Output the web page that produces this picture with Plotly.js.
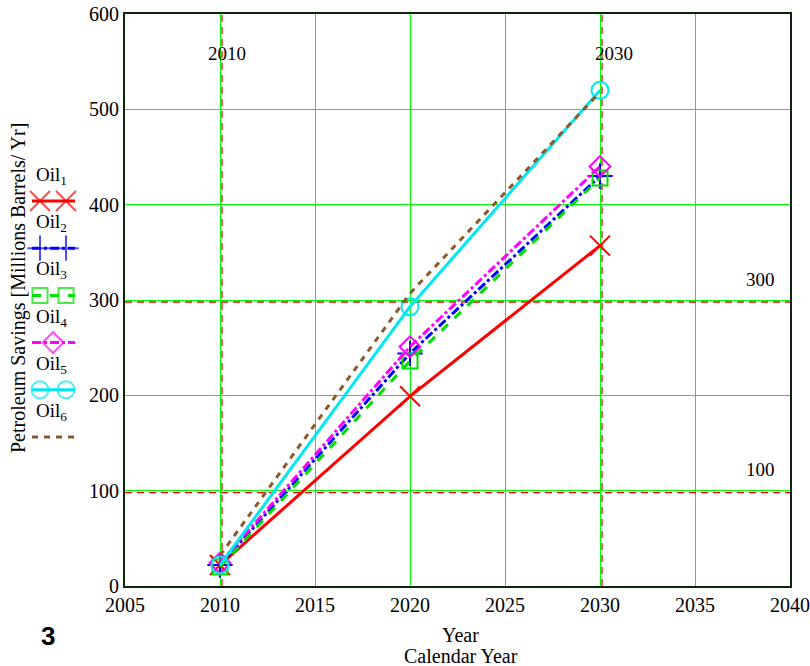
<!DOCTYPE html>
<html>
<head>
<meta charset="utf-8">
<script src="https://cdn.plot.ly/plotly-3.0.1.min.js"></script>
<style>html,body{margin:0;padding:0;background:#fff;}#chart{width:810px;height:666px;}</style>
</head>
<body>
<div id="chart"></div>
<script>
// ---- data ----
const years = [2010, 2020, 2030];
const oil1 = [22, 199, 357];
const oil2 = [22, 244, 430];
const oil3 = [20, 236, 428];
const oil4 = [24, 251, 440];
const oil5 = [22, 293, 520];
const oil6 = [32, 307, 518];
const seriesNames = ['Oil<sub>1</sub>', 'Oil<sub>2</sub>', 'Oil<sub>3</sub>', 'Oil<sub>4</sub>', 'Oil<sub>5</sub>', 'Oil<sub>6</sub>'];
const refYears = [2010, 2030];
const refValues = [100, 300];
const xTicks = [2005, 2010, 2015, 2020, 2025, 2030, 2035, 2040];
const yTicks = [0, 100, 200, 300, 400, 500, 600];

// ---- styles ----
const serif = 'Liberation Serif, Times New Roman, serif';
const FS = 20;
const styles = [
  {color: '#FF0000', dash: 'solid', symbol: 'x-thin-open', size: 20, mlw: 2},
  {color: '#0000FF', dash: 'dashdot', symbol: 'cross-thin-open', size: 18, mlw: 2},
  {color: '#00E000', dash: 'dash', symbol: 'square-open', size: 15, mlw: 2},
  {color: '#FF00FF', dash: 'dashdot', symbol: 'diamond-open', size: 16, mlw: 2},
  {color: '#00E8F0', dash: 'solid', symbol: 'circle-open', size: 17, mlw: 2},
  {color: '#8B5A2B', dash: '6px,6px', symbol: null, size: 0, mlw: 0}
];
const allSeries = [oil1, oil2, oil3, oil4, oil5, oil6];

const W = 810, H = 666;
const plotL = 125, plotR = 790, plotT = 14, plotB = 586;
const xMin = 2005, xMax = 2040, yMin = 0, yMax = 600;
// small pixel offsets so reference lines sit beside the grid lines, as in the original
const dxPix = 2 * (xMax - xMin) / (plotR - plotL);
const dyPix = 2 * (yMax - yMin) / (plotB - plotT);

const traces = [];
allSeries.forEach((vals, i) => {
  const s = styles[i];
  const t = {
    x: years, y: vals, type: 'scatter',
    mode: s.symbol ? 'lines+markers' : 'lines',
    name: seriesNames[i], showlegend: false,
    line: {color: s.color, width: 3, dash: s.dash},
    xaxis: 'x', yaxis: 'y'
  };
  if (s.symbol) t.marker = {symbol: s.symbol, size: s.size, color: s.color, line: {color: s.color, width: s.mlw}};
  traces.push(t);
});

// custom legend (text above sample) drawn on a pixel-unit helper axis in the left margin
const legTop = 201, legStep = 47.2;
const annotations = [];
styles.forEach((s, i) => {
  const yy = legTop + i * legStep;
  let xs, sizes;
  if (i === 3) { xs = [32, 53, 75]; sizes = [0, s.size, 0]; }
  else { xs = [32, 40, 66, 75]; sizes = [0, s.size, s.size, 0]; }
  const t = {
    x: xs, y: xs.map(() => yy), type: 'scatter',
    mode: s.symbol ? 'lines+markers' : 'lines', showlegend: false, hoverinfo: 'skip',
    line: {color: s.color, width: 3, dash: s.dash},
    xaxis: 'x2', yaxis: 'y2'
  };
  if (s.symbol) t.marker = {symbol: s.symbol, size: sizes, color: s.color, line: {color: s.color, width: s.mlw}};
  traces.push(t);
  annotations.push({
    xref: 'x2', yref: 'y2', x: 51, y: yy - 25, text: seriesNames[i],
    showarrow: false, xanchor: 'center', yanchor: 'middle',
    font: {family: serif, size: FS - 1, color: '#000'}
  });
});

// reference line labels
const refYearShift = [7, 14];
refYears.forEach((yr, i) => {
  annotations.push({xref: 'x', yref: 'paper', x: yr, y: (H - 53) / H, text: String(yr),
    showarrow: false, xanchor: 'center', yanchor: 'middle', xshift: refYearShift[i],
    font: {family: serif, size: FS - 1, color: '#000'}});
});
refValues.forEach((v) => {
  annotations.push({xref: 'paper', yref: 'y', x: 777 / W, y: v, yshift: 21, text: String(v),
    showarrow: false, xanchor: 'right', yanchor: 'middle',
    font: {family: serif, size: FS - 1, color: '#000'}});
});

// axis titles
annotations.push({xref: 'paper', yref: 'paper', x: 461 / W, y: (H - 635) / H,
  text: 'Year', showarrow: false, xanchor: 'center', yanchor: 'middle',
  font: {family: serif, size: FS, color: '#000'}});
annotations.push({xref: 'paper', yref: 'paper', x: 461 / W, y: (H - 656) / H,
  text: 'Calendar Year', showarrow: false, xanchor: 'center', yanchor: 'middle',
  font: {family: serif, size: FS, color: '#000'}});
annotations.push({xref: 'paper', yref: 'paper', x: 18 / W, y: (H - 288) / H,
  text: 'Petroleum Savings [Millions Barrels/ Yr]', textangle: -90, showarrow: false,
  xanchor: 'center', yanchor: 'middle',
  font: {family: serif, size: FS, color: '#000'}});
annotations.push({xref: 'paper', yref: 'paper', x: 48 / W, y: (H - 636) / H,
  text: '<b>3</b>', showarrow: false, xanchor: 'center', yanchor: 'middle',
  font: {family: 'Liberation Sans, Arial, sans-serif', size: 26, color: '#000'}});

const shapes = [];
refYears.forEach((yr) => {
  shapes.push({type: 'line', xref: 'x', yref: 'y', x0: yr + dxPix, x1: yr + dxPix,
    y0: yMin, y1: yMax, line: {color: '#FF0000', width: 1.3, dash: '7px,5px'}, layer: 'between'});
});
refValues.forEach((v) => {
  shapes.push({type: 'line', xref: 'x', yref: 'y', x0: xMin, x1: xMax,
    y0: v - dyPix, y1: v - dyPix, line: {color: '#FF0000', width: 1.3, dash: '7px,5px'}, layer: 'between'});
});

const layout = {
  width: W, height: H,
  margin: {l: 0, r: 0, t: 0, b: 0},
  paper_bgcolor: '#fff', plot_bgcolor: 'rgba(0,0,0,0)',
  showlegend: false,
  xaxis: {
    domain: [plotL / W, plotR / W], range: [xMin, xMax],
    tickvals: xTicks, ticktext: xTicks.map(String),
    showgrid: true, gridcolor: '#00FF00', gridwidth: 1, zeroline: false,
    showline: true, linecolor: '#0c260c', linewidth: 2, mirror: true, ticks: '',
    ticklabeloverflow: 'allow',
    tickfont: {family: serif, size: FS, color: '#000'}, automargin: false
  },
  yaxis: {
    domain: [(H - plotB) / H, (H - plotT) / H], range: [yMin, yMax],
    tickvals: yTicks, ticktext: yTicks.map(String),
    showgrid: true, gridcolor: '#00FF00', gridwidth: 1, zeroline: false,
    showline: true, linecolor: '#0c260c', linewidth: 2, mirror: true, ticks: '',
    ticklabeloverflow: 'allow',
    tickfont: {family: serif, size: FS, color: '#000'}, automargin: false
  },
  xaxis2: {domain: [0, 100 / W], range: [0, 100], visible: false, fixedrange: true, anchor: 'y2'},
  yaxis2: {domain: [0, 1], range: [H, 0], visible: false, fixedrange: true, anchor: 'x2'},
  annotations: annotations,
  shapes: shapes
};

Plotly.newPlot('chart', traces, layout, {staticPlot: true});
</script>
</body>
</html>
